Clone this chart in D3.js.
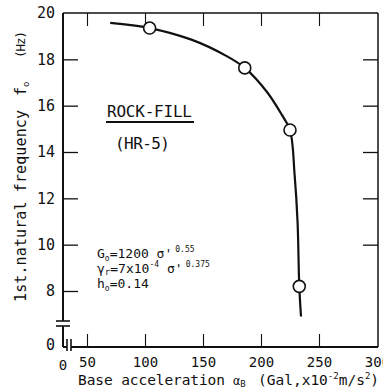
<!DOCTYPE html>
<html><head><meta charset="utf-8">
<script src="https://cdn.jsdelivr.net/npm/d3@7"></script>
<style>
body{margin:0;background:#fff}
svg text{font-family:"DejaVu Sans Mono","Liberation Mono",monospace;fill:#111}
</style></head><body>
<svg id="chart" width="383" height="389"></svg>
<script>
// measured natural frequency vs base acceleration (HR-5 rock-fill)
const measuredAccel = [104, 186, 225, 233];
const measuredFreq  = [19.35, 17.63, 14.95, 8.2];
// fitted response curve
const curveAccel = [70, 104, 140, 170, 186, 205, 218, 225, 229, 231.5, 233, 234.5];
const curveFreq  = [19.57, 19.35, 18.85, 18.15, 17.63, 16.6, 15.6, 14.95, 13.0, 11.0, 8.2, 6.9];
// axis ticks
const xTicks = [50, 100, 150, 200, 250, 300];
const yTicks = [8, 10, 12, 14, 16, 18, 20];
const topTicks = [50, 100, 150, 200, 250];
const rightTicks = [10, 12, 14, 16, 18];

const svg = d3.select("#chart");
const L = 63, R = 378, T = 13, B = 347;

const x = d3.scaleLinear().domain([50, 300]).range([87, 377]);
const y = d3.scaleLinear().domain([8, 20]).range([291, T]);

const ink = "#111";

// frame: top and right edges
svg.append("line").attr("x1", L).attr("x2", R).attr("y1", T).attr("y2", T)
  .attr("stroke", ink).attr("stroke-width", 1.5);
svg.append("line").attr("x1", R).attr("x2", R).attr("y1", T).attr("y2", B)
  .attr("stroke", ink).attr("stroke-width", 1.5);

// left axis with break
svg.append("line").attr("x1", L).attr("x2", L).attr("y1", T).attr("y2", 321)
  .attr("stroke", ink).attr("stroke-width", 2);
svg.append("line").attr("x1", L).attr("x2", L).attr("y1", 326).attr("y2", B)
  .attr("stroke", ink).attr("stroke-width", 2);
[321, 326].forEach(v => svg.append("line").attr("x1", L - 7).attr("x2", L + 7)
  .attr("y1", v).attr("y2", v).attr("stroke", ink).attr("stroke-width", 1.6));

// bottom axis with break
svg.append("line").attr("x1", L).attr("x2", 67).attr("y1", B).attr("y2", B)
  .attr("stroke", ink).attr("stroke-width", 2);
svg.append("line").attr("x1", 71).attr("x2", R).attr("y1", B).attr("y2", B)
  .attr("stroke", ink).attr("stroke-width", 2);
[67, 71].forEach(v => svg.append("line").attr("x1", v).attr("x2", v)
  .attr("y1", B - 8).attr("y2", B + 4).attr("stroke", ink).attr("stroke-width", 1.6));

// left ticks and labels
const yAxis = svg.append("g").attr("transform", `translate(${L},0)`)
  .call(d3.axisLeft(y).tickValues(yTicks).tickSize(-15).tickPadding(8).tickFormat(d3.format("d")));
yAxis.select(".domain").remove();
yAxis.selectAll("line").attr("stroke", ink).attr("stroke-width", 1.3)
  .filter(d => d === 20).remove();
yAxis.selectAll("text").attr("font-size", 15).attr("fill", ink)
  .style("font-family", '"DejaVu Sans Mono",monospace');

// right ticks
svg.append("g").attr("transform", `translate(${R},0)`)
  .call(d3.axisRight(y).tickValues(rightTicks).tickSize(-15).tickFormat(""))
  .call(g => g.select(".domain").remove())
  .selectAll("line").attr("stroke", ink).attr("stroke-width", 1.3);

// bottom ticks and labels
const xAxis = svg.append("g").attr("transform", `translate(0,${B})`)
  .call(d3.axisBottom(x).tickValues(xTicks).tickSize(-13).tickPadding(10).tickFormat(d3.format("d")));
xAxis.select(".domain").remove();
xAxis.selectAll("line").attr("stroke", ink).attr("stroke-width", 1.1)
  .filter(d => d === 300).remove();
xAxis.selectAll("text").attr("font-size", 14).attr("fill", ink)
  .style("font-family", '"DejaVu Sans Mono",monospace');

// top ticks
svg.append("g").attr("transform", `translate(0,${T})`)
  .call(d3.axisTop(x).tickValues(topTicks).tickSize(-13).tickFormat(""))
  .call(g => g.select(".domain").remove())
  .selectAll("line").attr("stroke", ink).attr("stroke-width", 1.1);

// zero labels on the broken axes
svg.append("text").attr("x", L - 8).attr("y", B - 2).attr("dy", "0.32em")
  .attr("text-anchor", "end").attr("font-size", 15).text("0");
svg.append("text").attr("x", L).attr("y", B + 23)
  .attr("text-anchor", "middle").attr("font-size", 14).text("0");

// response curve
const pts = curveAccel.map((a, i) => [x(a), y(curveFreq[i])]);
svg.append("path").attr("d", d3.line().curve(d3.curveCatmullRom.alpha(0.5))(pts))
  .attr("fill", "none").attr("stroke", ink).attr("stroke-width", 2.2);

// measured points
svg.selectAll("circle.m").data(measuredAccel).join("circle")
  .attr("cx", d => x(d)).attr("cy", (d, i) => y(measuredFreq[i])).attr("r", 6)
  .attr("fill", "#fff").attr("stroke", ink).attr("stroke-width", 1.6);

// title block
svg.append("text").attr("x", 107).attr("y", 117).attr("font-size", 16)
  .attr("textLength", 85).text("ROCK-FILL");
svg.append("line").attr("x1", 106).attr("x2", 194).attr("y1", 122).attr("y2", 122)
  .attr("stroke", ink).attr("stroke-width", 2);
svg.append("text").attr("x", 115).attr("y", 149).attr("font-size", 16)
  .attr("textLength", 55).text("(HR-5)");

// parameter block
const p1 = svg.append("text").attr("x", 97).attr("y", 258).attr("font-size", 13);
p1.append("tspan").text("G");
p1.append("tspan").attr("font-size", 8).attr("dy", 3).text("o");
p1.append("tspan").attr("dy", -3).text("=1200 σ'");
p1.append("tspan").attr("font-size", 8).attr("dy", -6).attr("dx", 3).text("0.55");

const p2 = svg.append("text").attr("x", 97).attr("y", 273).attr("font-size", 13);
p2.append("tspan").text("γ");
p2.append("tspan").attr("font-size", 9).attr("dy", 2).text("r");
p2.append("tspan").attr("dy", -2).text("=7x10");
p2.append("tspan").attr("font-size", 8).attr("dy", -6).text("-4");
p2.append("tspan").attr("dy", 6).attr("dx", 8).text("σ'");
p2.append("tspan").attr("font-size", 8).attr("dy", -6).attr("dx", 3).text("0.375");

const p3 = svg.append("text").attr("x", 97).attr("y", 288).attr("font-size", 13);
p3.append("tspan").text("h");
p3.append("tspan").attr("font-size", 8).attr("dy", 3).text("o");
p3.append("tspan").attr("dy", -3).text("=0.14");

// y axis title
const yt = svg.append("g").attr("transform", "translate(26,0) rotate(-90)");
yt.append("text").attr("x", -302).attr("y", 0).attr("font-size", 15)
  .attr("textLength", 192).text("1st.natural frequency");
const yf = yt.append("text").attr("x", -96).attr("y", 0).attr("font-size", 15);
yf.append("tspan").text("f");
yf.append("tspan").attr("font-size", 9).attr("dy", 3).text("o");
yt.append("text").attr("x", -58).attr("y", -1).attr("font-size", 12.5)
  .attr("textLength", 27).text("(Hz)");

// x axis title
svg.append("text").attr("x", 78).attr("y", 385).attr("font-size", 14.5)
  .attr("textLength", 147).text("Base acceleration");
const xa = svg.append("text").attr("x", 233).attr("y", 385).attr("font-size", 12);
xa.append("tspan").text("α");
xa.append("tspan").attr("font-size", 9).attr("dy", 2).text("B");
const xu = svg.append("text").attr("x", 258).attr("y", 385).attr("font-size", 14.5);
xu.append("tspan").text("(Gal,x10");
xu.append("tspan").attr("font-size", 9).attr("dy", -6).text("-2");
xu.append("tspan").attr("dy", 6).text("m/s");
xu.append("tspan").attr("font-size", 9).attr("dy", -6).text("2");
xu.append("tspan").attr("dy", 6).text(")");
</script>
</body></html>
